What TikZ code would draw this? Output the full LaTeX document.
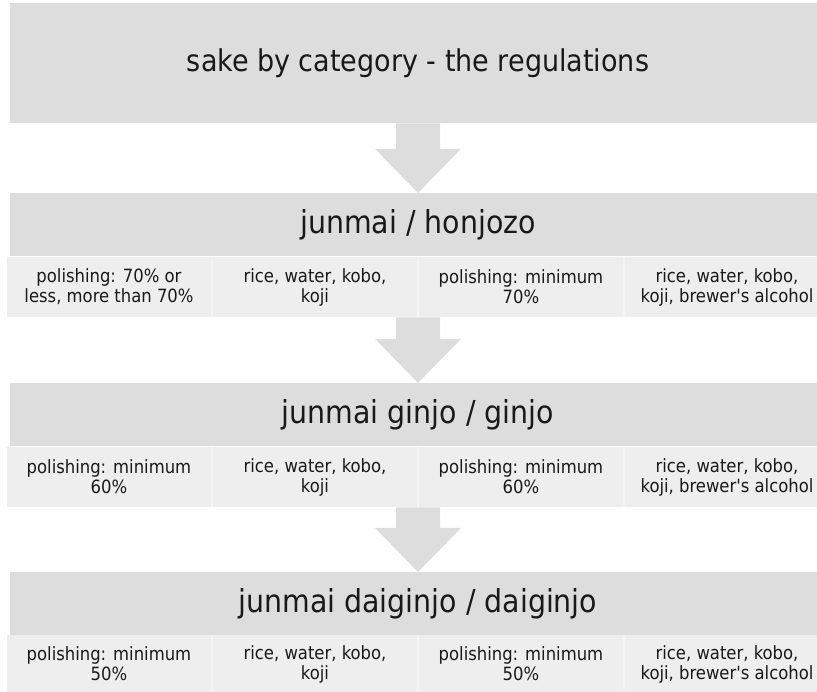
\documentclass[tikz,border=0pt]{standalone}
\usepackage{fontspec}
\setmainfont[Ligatures=TeXOff]{DejaVu Sans Condensed}
\usetikzlibrary{positioning, calc}
\definecolor{bandgray}{RGB}{221,221,221}
\definecolor{cellgray}{RGB}{238,238,238}
\definecolor{seamgray}{RGB}{244,244,244}
\definecolor{inkgray}{RGB}{25,25,25}

\tikzset{
    band/.style={fill=bandgray, inner sep=0pt, minimum width=612pt, minimum height=47pt, text=inkgray, font=\fontsize{23.7}{28}\selectfont},
    cellbox/.style={fill=cellgray, inner sep=0pt, minimum width=152.5pt, minimum height=45pt, text=inkgray, align=center, font=\fontsize{13.7}{15}\selectfont}
}
% downward block arrow between two points
\newcommand{\flowarrow}[2]{%
    \fill[bandgray] ($(#1)+(-22,0)$) -- ($(#1)+(22,0)$) -- ($(#2)+(22,-44)$) -- ($(#2)+(43,-44)$)
        -- (#2) -- ($(#2)+(-43,-44)$) -- ($(#2)+(-22,-44)$) -- cycle;}

\begin{document}
\begin{tikzpicture}[x=0.75pt, y=-0.75pt]
    \useasboundingbox (0,0) rectangle (817,692);
    \clip (0,0) rectangle (817,692);

    % faint seams behind the cell rows
    \fill[seamgray] (7,257) rectangle (830,317);
    \fill[seamgray] (7,447) rectangle (830,507);
    \fill[seamgray] (7,635) rectangle (830,692);

    \node[band, minimum height=90pt, font=\fontsize{22.5}{27}\selectfont] (hdr) at (418,63) {sake by category - the regulations};

    \node[band] (b2) at (418,224.5) {junmai / honjozo};
    \node[cellbox] (b2c1) at (109,287) {polishing: 70\% or\\less, more than 70\%};
    \node[cellbox] (b2c2) at (315,287) {rice, water, kobo,\\koji};
    \node[cellbox] (b2c3) at (521,287) {polishing: minimum\\70\%};
    \node[cellbox] (b2c4) at (727,287) {rice, water, kobo,\\koji, brewer's alcohol};

    \node[band] (b3) at (418,414.5) {junmai ginjo / ginjo};
    \node[cellbox] (b3c1) at (109,477) {polishing: minimum\\60\%};
    \node[cellbox] (b3c2) at (315,477) {rice, water, kobo,\\koji};
    \node[cellbox] (b3c3) at (521,477) {polishing: minimum\\60\%};
    \node[cellbox] (b3c4) at (727,477) {rice, water, kobo,\\koji, brewer's alcohol};

    \node[band] (b4) at (418,603.5) {junmai daiginjo / daiginjo};
    \node[cellbox, minimum height=43pt] (b4c1) at (109,664) {polishing: minimum\\50\%};
    \node[cellbox, minimum height=43pt] (b4c2) at (315,664) {rice, water, kobo,\\koji};
    \node[cellbox, minimum height=43pt] (b4c3) at (521,664) {polishing: minimum\\50\%};
    \node[cellbox, minimum height=43pt] (b4c4) at (727,664) {rice, water, kobo,\\koji, brewer's alcohol};

    % arrows
    \coordinate (a2top) at (b2c2.south -| hdr.south);
    \coordinate (a3top) at (b3c2.south -| hdr.south);
    \flowarrow{hdr.south}{b2.north}
    \flowarrow{a2top}{b3.north}
    \flowarrow{a3top}{b4.north}
\end{tikzpicture}
\end{document}
